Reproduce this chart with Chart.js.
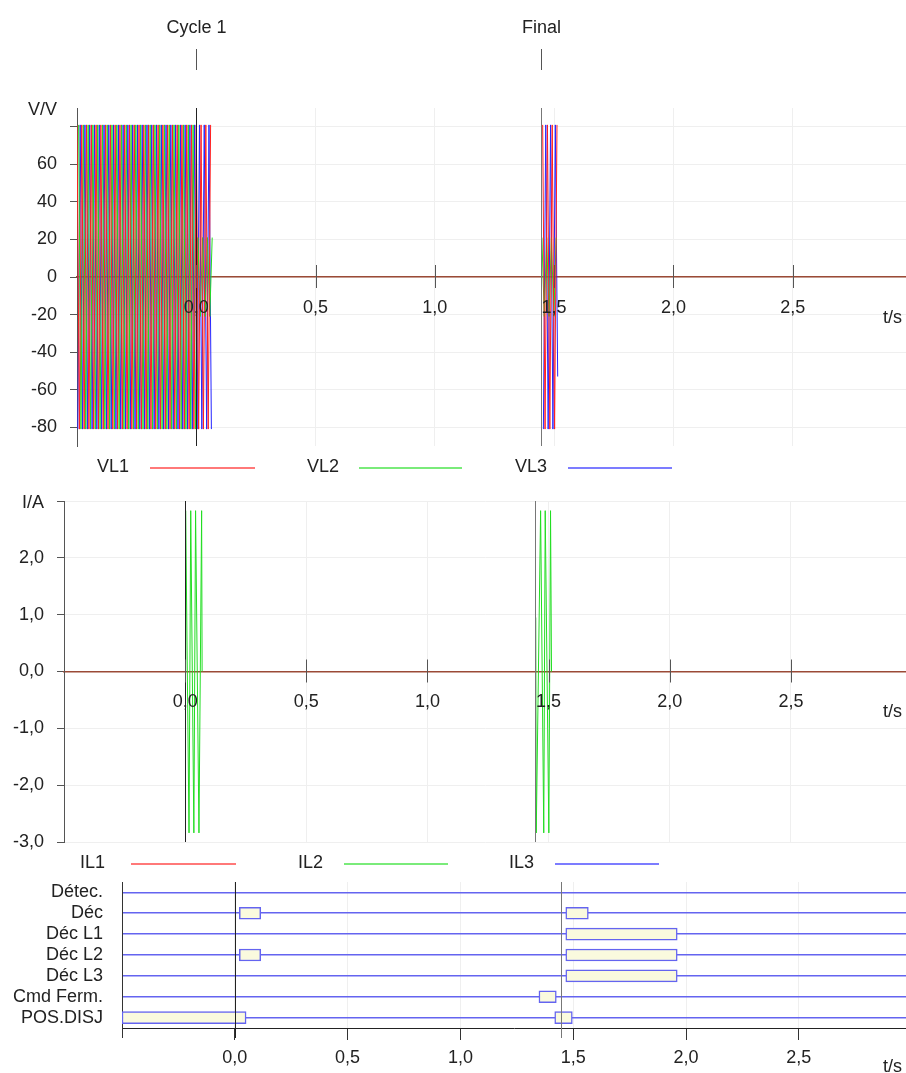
<!DOCTYPE html>
<html>
<head>
<meta charset="utf-8">
<script src="https://cdn.jsdelivr.net/npm/chart.js@4.4.0/dist/chart.umd.min.js"></script>
<style>
  body { margin: 0; background: #fff; }
  #wrap { position: relative; width: 906px; height: 1073px; overflow: hidden; }
  #wrap canvas { position: absolute; left: 0; top: 0; }
</style>
</head>
<body>
<div id="wrap">
  <canvas id="cV" width="906" height="1073"></canvas>
  <canvas id="cI" width="906" height="1073"></canvas>
  <canvas id="cD" width="906" height="1073"></canvas>
</div>
<script>
// time axis shared by the three panels
const tMin = -0.5, tMax = 2.975;
const timeTicks = [0, 0.5, 1.0, 1.5, 2.0, 2.5];
const markerNames = ['Cycle 1', 'Final'];
const markerTimes = [0, 1.445];

// voltage panel
const vTicks = [-80, -60, -40, -20, 0, 20, 40, 60, 80];
const halfPeriod = 0.01; // crest to trough spacing, 50 Hz
const vl1Start = [-0.5000, 1.4520];
const vl1Peaks = [
  [81,-81,81,-81,81,-81,81,-81,81,-81,81,-81,81,-81,81,-81,81,-81,81,-81,
   81,-81,81,-81,81,-81,81,-81,81,-81,81,-81,81,-81,81,-81,81,-81,81,-81,
   81,-81,81,-81,81,-81,81,-81,81,-81,81,-81,81,-81,81,-81,81],
  [81,-81,81,-81,81,-81,81]
];
const vl2Start = [-0.4933, 1.4487];
const vl2Peaks = [
  [81,-81,81,-81,81,-81,81,-81,81,-81,81,-81,81,-81,81,-81,81,-81,81,-81,
   81,-81,81,-81,81,-81,81,-81,81,-81,81,-81,81,-81,81,-81,81,-81,81,-81,
   81,-81,81,-81,81,-81,81,-81,81,-81,21,-21,21,-21,21,-21,21],
  [21,-21,21,-21,21,-21,21]
];
const vl3Start = [-0.4967, 1.4550];
const vl3Peaks = [
  [-81,81,-81,81,-81,81,-81,81,-81,81,-81,81,-81,81,-81,81,-81,81,-81,81,
   -81,81,-81,81,-81,81,-81,81,-81,81,-81,81,-81,81,-81,81,-81,81,-81,81,
   -81,81,-81,81,-81,81,-81,81,-81,81,-81,81,-81,81,-81,81,-81],
  [-81,81,-81,81,-81,81,-53]
];

// current panel (null = gap between records)
const iTicks = [-3, -2, -1, 0, 1, 2, 3];
const il1Time = [], il1Value = [];
const il2Time  = [0.000, 0.002, 0.016, 0.023, 0.036, 0.043, 0.057, 0.068, 0.070, 1.000, 1.447, 1.449, 1.467, 1.480, 1.486, 1.501, 1.508, 1.512];
const il2Value = [0, 2.83, -2.84, 2.83, -2.84, 2.83, -2.84, 2.83, 0, null, 0.95, -2.84, 2.83, -2.84, 2.83, -2.84, 2.83, 0];
const il3Time = [], il3Value = [];

// binary signals panel
const rowNames   = ['Détec.', 'Déc', 'Déc L1', 'Déc L2', 'Déc L3', 'Cmd Ferm.', 'POS.DISJ'];
const cycle1From = [null, 0.020, null, 0.020, null, null, -0.500];
const cycle1To   = [null, 0.115, null, 0.115, null, null, 0.050];
const finalFrom  = [null, 1.467, 1.467, 1.467, 1.467, 1.348, 1.418];
const finalTo    = [null, 1.567, 1.961, 1.961, 1.961, 1.425, 1.496];

const RED = '#ff2020', GREEN = '#22dd22', BLUE = '#2525ff';
const INK = '#222', AXIS = '#555', GRID = '#efefef', ZERO = '#9b4a36';
const ROWLINE = 'rgb(100,100,240)', BOX = 'rgb(250,250,222)';
const FONT = '"Liberation Sans", Arial, sans-serif';

Chart.defaults.font.family = FONT;
Chart.defaults.font.size = 18;
Chart.defaults.color = INK;

const fmt = v => v.toFixed(1).replace('.', ',');

function burstPoints(starts, peaks) {
  const pts = [];
  starts.forEach((t0, b) => {
    if (b > 0) pts.push({ x: t0 - halfPeriod / 2, y: null });
    peaks[b].forEach((v, i) => pts.push({ x: t0 + i * halfPeriod, y: v }));
  });
  return pts;
}
const zip = (ts, vs) => ts.map((t, i) => ({ x: t, y: vs[i] }));

function seg(ctx, x1, y1, x2, y2) { ctx.beginPath(); ctx.moveTo(x1, y1); ctx.lineTo(x2, y2); ctx.stroke(); }

const deco = {
  id: 'deco',
  afterDatasetsDraw(chart, args, o) {
    const { ctx, chartArea: a, scales: { x } } = chart;
    ctx.save();
    ctx.lineWidth = 1;
    markerTimes.forEach((t, i) => {
      const px = Math.round(x.getPixelForValue(t)) + 0.5;
      ctx.strokeStyle = i === 0 ? '#222' : '#777';
      seg(ctx, px, a.top, px, a.bottom + (o.extra || 0));
      if (o.labels) {
        ctx.strokeStyle = AXIS;
        seg(ctx, px, 49, px, 70);
        ctx.fillStyle = INK; ctx.font = '18px ' + FONT;
        ctx.textAlign = 'center'; ctx.textBaseline = 'middle';
        ctx.fillText(markerNames[i], px, 28);
      }
    });
    if (o.cross) {
      const y0 = chart.scales.y.getPixelForValue(0);
      ctx.strokeStyle = AXIS;
      timeTicks.forEach(t => {
        const px = Math.round(x.getPixelForValue(t)) + 0.5;
        seg(ctx, px, y0 - 12, px, y0 + 11);
      });
    }
    if (o.extra) { ctx.strokeStyle = '#333'; seg(ctx, a.left + 0.5, a.bottom, a.left + 0.5, a.bottom + o.extra); }
    ctx.fillStyle = INK; ctx.font = '18px ' + FONT;
    ctx.textAlign = 'right'; ctx.textBaseline = 'middle';
    if (o.unit) ctx.fillText(o.unit, a.left - 20, a.top + 2);
    ctx.fillText('t/s', 902, o.tsY);
    // legend under the panel, from the datasets
    if (o.legendY) {
      ctx.textAlign = 'left';
      chart.data.datasets.forEach((ds, i) => {
        ctx.fillStyle = INK;
        ctx.fillText(ds.label, o.textX[i], o.legendY);
        ctx.strokeStyle = ds.borderColor;
        ctx.lineWidth = 2;
        ctx.globalAlpha = 0.6;
        seg(ctx, o.lineX[i][0], o.legendY + 1, o.lineX[i][1], o.legendY + 1);
        ctx.globalAlpha = 1;
        ctx.lineWidth = 1;
      });
    }
    ctx.restore();
  }
};

function waveOptions(top, bottom, yw, ymin, ymax, ticks, yfmt, decoOpts) {
  return {
    responsive: false, animation: false,
    layout: { padding: { top: top, bottom: 1073 - bottom, left: 0, right: 0 } },
    elements: { point: { radius: 0 }, line: { borderWidth: 1, tension: 0 } },
    plugins: { legend: { display: false }, tooltip: { enabled: false }, deco: decoOpts },
    scales: {
      x: {
        type: 'linear', min: tMin, max: tMax, position: { y: 0 },
        afterBuildTicks: s => { s.ticks = timeTicks.map(v => ({ value: v })); },
        ticks: { callback: v => fmt(v), padding: 9, z: 1, maxRotation: 0, autoSkip: false },
        grid: { color: GRID, tickLength: 11, tickColor: 'rgba(0,0,0,0)' },
        border: { color: ZERO, width: 1.5 }
      },
      y: {
        min: ymin, max: ymax,
        afterFit: s => { s.width = yw; },
        afterBuildTicks: s => { s.ticks = ticks.map(v => ({ value: v })); },
        ticks: { callback: yfmt, padding: 13, autoSkip: false },
        grid: { color: GRID, tickLength: 7, tickColor: AXIS },
        border: { color: AXIS }
      }
    }
  };
}

new Chart(document.getElementById('cV'), {
  type: 'line',
  data: { datasets: [
    { label: 'VL1', data: burstPoints(vl1Start, vl1Peaks), borderColor: RED, backgroundColor: RED },
    { label: 'VL2', data: burstPoints(vl2Start, vl2Peaks), borderColor: GREEN, backgroundColor: GREEN },
    { label: 'VL3', data: burstPoints(vl3Start, vl3Peaks), borderColor: BLUE, backgroundColor: BLUE }
  ] },
  options: waveOptions(108, 446, 77, -90, 90, vTicks, v => v === 80 ? '' : String(v),
    { labels: true, cross: true, unit: 'V/V', tsY: 318,
      legendY: 467, textX: [97, 307, 515], lineX: [[150, 255], [359, 462], [568, 672]] }),
  plugins: [deco]
});

new Chart(document.getElementById('cI'), {
  type: 'line',
  data: { datasets: [
    { label: 'IL1', data: zip(il1Time, il1Value), borderColor: RED, backgroundColor: RED },
    { label: 'IL2', data: zip(il2Time, il2Value), borderColor: GREEN, backgroundColor: GREEN },
    { label: 'IL3', data: zip(il3Time, il3Value), borderColor: BLUE, backgroundColor: BLUE }
  ] },
  options: waveOptions(501, 842, 64, -3, 3, iTicks, v => v === 3 ? '' : fmt(v),
    { cross: true, unit: 'I/A', tsY: 712,
      legendY: 863, textX: [80, 298, 509], lineX: [[131, 236], [344, 448], [555, 659]] }),
  plugins: [deco]
});

new Chart(document.getElementById('cD'), {
  type: 'bar',
  data: {
    labels: rowNames,
    datasets: [
      { label: 'Cycle 1', data: rowNames.map((r, i) => cycle1From[i] === null ? null : [cycle1From[i], cycle1To[i]]),
        backgroundColor: BOX, borderColor: ROWLINE },
      { label: 'Final', data: rowNames.map((r, i) => finalFrom[i] === null ? null : [finalFrom[i], finalTo[i]]),
        backgroundColor: BOX, borderColor: ROWLINE }
    ]
  },
  options: {
    indexAxis: 'y', responsive: false, animation: false,
    layout: { padding: { top: 882, bottom: 0, left: 0, right: 0 } },
    datasets: { bar: { grouped: false, barThickness: 12, borderWidth: 1.5, borderSkipped: false } },
    plugins: { legend: { display: false }, tooltip: { enabled: false }, deco: { extra: 10, tsY: 1067 } },
    scales: {
      x: {
        type: 'linear', min: tMin, max: tMax, position: 'bottom',
        afterFit: s => { s.height = 45; },
        afterBuildTicks: s => { s.ticks = timeTicks.map(v => ({ value: v })); },
        ticks: { callback: v => fmt(v), padding: 7, maxRotation: 0, autoSkip: false },
        grid: { color: GRID, tickLength: 12, tickColor: '#333' },
        border: { color: '#222' }
      },
      y: {
        type: 'category',
        afterFit: s => { s.width = 122; },
        ticks: { padding: 19, autoSkip: false },
        grid: { offset: false, color: ROWLINE, lineWidth: 1.6, drawTicks: false },
        border: { color: '#333' }
      }
    }
  },
  plugins: [deco]
});
</script>
</body>
</html>
